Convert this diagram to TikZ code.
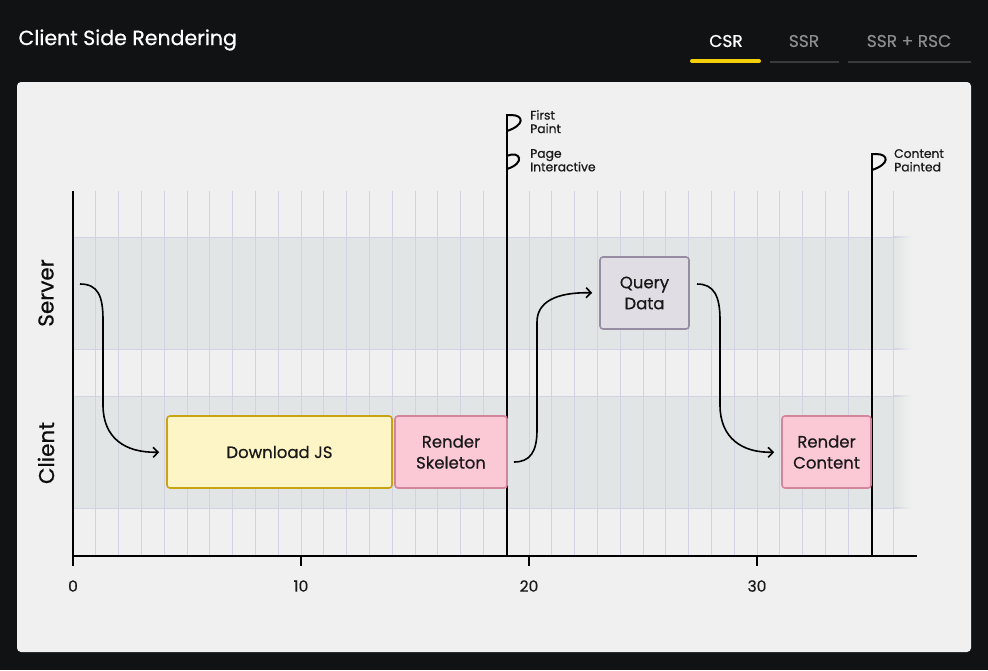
\documentclass[tikz,border=0pt]{standalone}
\usepackage{fontspec}
\setmainfont{Poppins}
\newfontfamily\medfont{Poppins}[FakeBold=0.6]
\usetikzlibrary{arrows.meta}

\definecolor{pagebg}{HTML}{111214}
\definecolor{panelbg}{HTML}{F0F0F0}
\definecolor{bandbg}{HTML}{E2E5E5}
\definecolor{gridc}{HTML}{D2D2E2}
\definecolor{jsfill}{HTML}{FEF5C6}
\definecolor{jsdraw}{HTML}{C9A314}
\definecolor{pinkfill}{HTML}{FBC8D6}
\definecolor{pinkdraw}{HTML}{D4859C}
\definecolor{qfill}{HTML}{E1DDE4}
\definecolor{qdraw}{HTML}{978DA2}
\definecolor{tabgold}{HTML}{F5CF0A}
\definecolor{tabgray}{HTML}{3A3B3F}
\definecolor{tabtext}{HTML}{8C8C8C}

\tikzset{
  stepbox/.style={rectangle, rounded corners=3pt, line width=1.6pt,
    minimum height=72pt, inner sep=0pt, align=center,
    font=\medfont\fontsize{16.5}{21}\selectfont, text=black!90},
  jsbox/.style={stepbox, fill=jsfill, draw=jsdraw},
  pinkbox/.style={stepbox, fill=pinkfill, draw=pinkdraw},
  querybox/.style={stepbox, fill=qfill, draw=qdraw},
  flow/.style={line width=1.6pt, -{Straight Barb[length=5pt,width=10pt,line width=1.6pt]}, shorten >=7pt},
  gridline/.style={draw=gridc, line width=1pt},
  axis/.style={line width=2.6pt, black},
  pole/.style={line width=2pt, black},
  flagtext/.style={anchor=north west, align=left, inner sep=0pt,
    font=\medfont\fontsize{12.3}{13.5}\selectfont, text=black!90},
  lane/.style={rotate=90, font=\medfont\fontsize{21.5}{24}\selectfont, text=black!95},
  ticklabel/.style={font=\medfont\fontsize{15.5}{18}\selectfont, text=black!90},
  tab/.style={font=\medfont\fontsize{17}{20}\selectfont},
}

\begin{document}
\begin{tikzpicture}[x=1pt, y=-1pt]
  \useasboundingbox (0,0) rectangle (988,670);
  \fill[pagebg] (0,0) rectangle (988,670);

  % header
  \node[anchor=west, text=white, font=\medfont\fontsize{20.5}{24}\selectfont] (title) at (15,40) {Client Side Rendering};
  \node[tab, text=white] (tcsr) at (726,41) {CSR};
  \node[tab, text=tabtext] (tssr) at (804,41) {SSR};
  \node[tab, text=tabtext] (trsc) at (909,41) {SSR + RSC};
  \draw[tabgold, line width=4pt, line cap=round] (692,61) -- (759,61);
  \draw[tabgray, line width=2.5pt] (770,62) -- (839,62);
  \draw[tabgray, line width=2.5pt] (848,62) -- (971,62);

  % panel
  \fill[panelbg, rounded corners=4pt] (17,82) rectangle (971,652);

  % lanes
  \foreach \top/\bot in {237/349, 396/508}{
    \fill[bandbg] (74,\top) rectangle (893,\bot);
    \shade[left color=bandbg, right color=panelbg] (893,\top) rectangle (912,\bot);
    \draw[gridline] (74,\top) -- (893,\top);
    \draw[gridline] (74,\bot) -- (893,\bot);
    \shade[left color=gridc, right color=panelbg] (893,\top-0.5) rectangle (912,\top+0.5);
    \shade[left color=gridc, right color=panelbg] (893,\bot-0.5) rectangle (912,\bot+0.5);
  }

  % time grid
  \foreach \k in {1,...,36}{
    \draw[gridline] ({73+22.8*\k},191) -- ({73+22.8*\k},556);
  }

  % axes
  \draw[axis] (73,191) -- (73,566);
  \draw[axis] (73,556) -- (917,556);
  \foreach \t in {10,20,30}{
    \draw[axis] ({73+22.8*\t},556) -- ({73+22.8*\t},566);
  }
  \node[ticklabel] (l0) at (73,586) {0};
  \node[ticklabel] (l10) at (301,586) {10};
  \node[ticklabel] (l20) at (529,586) {20};
  \node[ticklabel] (l30) at (757,586) {30};

  \node[lane] (server) at (46,293) {Server};
  \node[lane] (client) at (46,453) {Client};

  % milestones
  \draw[pole] (507,556) -- (507,114);
  \draw[pole] (507,115) -- (511,115) .. controls (524,115) and (525,125) .. (507,131);
  \draw[pole] (507,156) .. controls (520,150) and (526,163) .. (507,169);
  \node[flagtext] (fp) at (530,110) {First\\Paint};
  \node[flagtext] (pi) at (530,149) {Page\\Interactive};

  \draw[pole] (872,556) -- (872,153);
  \draw[pole] (872,154) -- (876,154) .. controls (889,154) and (890,164) .. (872,170);
  \node[flagtext] (cp) at (894,149) {Content\\Painted};

  % steps
  \node[jsbox, minimum width=225pt] (dl) at (279.5,452) {Download JS};
  \node[pinkbox, minimum width=112pt] (rs) at (451,452) {Render\\Skeleton};
  \node[querybox, minimum width=89pt] (qd) at (644.5,293) {Query\\Data};
  \node[pinkbox, minimum width=89pt] (rc) at (826.5,452) {Render\\Content};

  % flow
  \coordinate (s1) at (80,284);
  \coordinate (s2) at (514,462);
  \coordinate (s3) at (697,284);
  \draw[flow] (s1) .. controls (98,284) and (103,296) .. (103,320)
    -- (103,405) .. controls (103,438) and (125,453) .. (dl.west);
  \draw[flow] (s2) .. controls (530,462) and (537,452) .. (537,430)
    -- (537,322) .. controls (537,302) and (556,292) .. (qd.west);
  \draw[flow] (s3) .. controls (714,284) and (720,296) .. (720,320)
    -- (720,405) .. controls (720,438) and (742,453) .. (rc.west);
\end{tikzpicture}
\end{document}
